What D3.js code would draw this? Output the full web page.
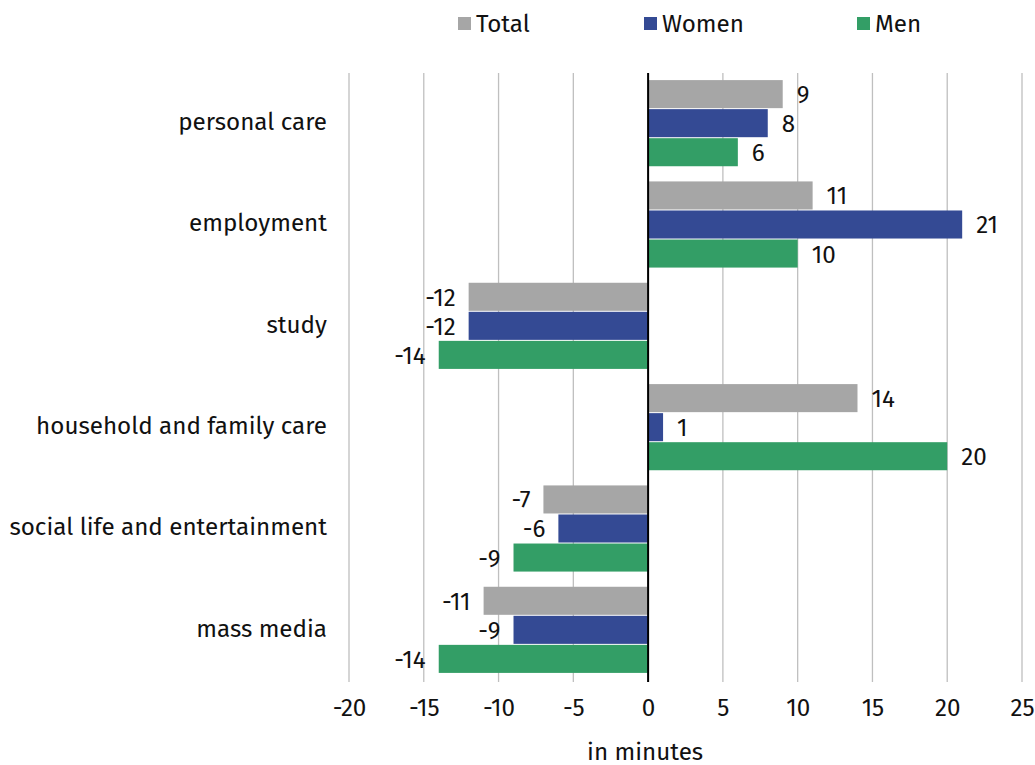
<!DOCTYPE html>
<html>
<head>
<meta charset="utf-8">
<script src="https://cdn.jsdelivr.net/npm/d3@7"></script>
<style>
  body { margin: 0; background: #fff; }
  svg text { font-family: "Fira Sans", "Noto Sans", "Open Sans", sans-serif; fill: #111; }
</style>
</head>
<body>
<div id="chart"></div>
<script>
// categories and series values (minutes)
var categories = ["personal care", "employment", "study", "household and family care", "social life and entertainment", "mass media"];
var seriesNames = ["Total", "Women", "Men"];
var totalValues = [9, 11, -12, 14, -7, -11];
var womenValues = [8, 21, -12, 1, -6, -9];
var menValues = [6, 10, -14, 20, -9, -14];
var xTicks = [-20, -15, -10, -5, 0, 5, 10, 15, 20, 25];

var colors = {"Total": "#a6a6a6", "Women": "#344a94", "Men": "#339e66"};

var w = 1035, h = 765;
var margin = {top: 73, right: 13, bottom: 84, left: 349};
var fontSize = "24.2px";

var svg = d3.select("#chart").append("svg")
  .attr("width", w)
  .attr("height", h);

// build rows from the arrays
var rows = categories.map(function(c, i) {
  return {cat: c, values: [
    {key: "Total", v: totalValues[i]},
    {key: "Women", v: womenValues[i]},
    {key: "Men", v: menValues[i]}
  ]};
});

var x = d3.scaleLinear()
  .domain([-20, 25])
  .range([margin.left, w - margin.right]);

var y0 = d3.scaleBand()
  .domain(categories)
  .range([margin.top, h - margin.bottom])
  .paddingInner(0.14)
  .paddingOuter(0.07);

var y1 = d3.scaleBand()
  .domain(seriesNames)
  .range([0, y0.bandwidth()]);

// gridlines
svg.append("g")
  .selectAll("line")
  .data(xTicks)
  .enter()
  .append("line")
  .attr("x1", function(d) { return x(d); })
  .attr("x2", function(d) { return x(d); })
  .attr("y1", margin.top)
  .attr("y2", h - margin.bottom + 1)
  .attr("stroke", "#bfbfbf")
  .attr("stroke-width", 1.3);

// x axis labels
var xAxis = d3.axisBottom(x).tickValues(xTicks).tickSize(0).tickPadding(0)
  .tickFormat(function(d) { return d < 0 ? "-" + Math.abs(d) : d; });
var gx = svg.append("g")
  .attr("transform", "translate(0," + (h - margin.bottom + 27) + ")")
  .call(xAxis);
gx.select(".domain").remove();
gx.selectAll("text")
  .attr("dy", "0.35em")
  .style("font-size", fontSize)
  .style("font-family", "\"Fira Sans\", \"Noto Sans\", \"Open Sans\", sans-serif")
  .attr("fill", "#111");

// axis title
svg.append("text")
  .attr("x", x(0) - 3)
  .attr("y", 752)
  .attr("text-anchor", "middle")
  .attr("dy", "0.35em")
  .style("font-size", fontSize)
  .text("in minutes");

// category labels
svg.append("g")
  .selectAll("text")
  .data(categories)
  .enter()
  .append("text")
  .attr("x", margin.left - 22)
  .attr("y", function(d) { return y0(d) + y0.bandwidth() / 2 - 2; })
  .attr("text-anchor", "end")
  .attr("dy", "0.35em")
  .style("font-size", fontSize)
  .text(function(d) { return d; });

// bars
var groups = svg.append("g")
  .selectAll("g")
  .data(rows)
  .enter()
  .append("g")
  .attr("transform", function(d) { return "translate(0," + y0(d.cat) + ")"; });

groups.selectAll("rect")
  .data(function(d) { return d.values; })
  .enter()
  .append("rect")
  .attr("x", function(d) { return x(Math.min(0, d.v)); })
  .attr("y", function(d) { return y1(d.key); })
  .attr("width", function(d) { return Math.abs(x(d.v) - x(0)); })
  .attr("height", y1.bandwidth() - 1)
  .attr("fill", function(d) { return colors[d.key]; });

// value labels
groups.selectAll("text")
  .data(function(d) { return d.values; })
  .enter()
  .append("text")
  .attr("x", function(d) { return d.v < 0 ? x(d.v) - 13 : x(d.v) + 14; })
  .attr("y", function(d) { return y1(d.key) + y1.bandwidth() / 2; })
  .attr("text-anchor", function(d) { return d.v < 0 ? "end" : "start"; })
  .attr("dy", "0.35em")
  .style("font-size", fontSize)
  .text(function(d) { return d.v < 0 ? "-" + Math.abs(d.v) : d.v; });

// zero line
svg.append("line")
  .attr("x1", x(0))
  .attr("x2", x(0))
  .attr("y1", margin.top)
  .attr("y2", h - margin.bottom + 1)
  .attr("stroke", "#000")
  .attr("stroke-width", 2);

// legend
var legendX = [458, 644, 857];
var legend = svg.append("g")
  .selectAll("g")
  .data(seriesNames)
  .enter()
  .append("g")
  .attr("transform", function(d, i) { return "translate(" + legendX[i] + ",17)"; });
legend.append("rect")
  .attr("width", 13)
  .attr("height", 13)
  .attr("fill", function(d) { return colors[d]; });
legend.append("text")
  .attr("x", 18)
  .attr("y", 7)
  .attr("dy", "0.35em")
  .style("font-size", fontSize)
  .text(function(d) { return d; });
</script>
</body>
</html>
